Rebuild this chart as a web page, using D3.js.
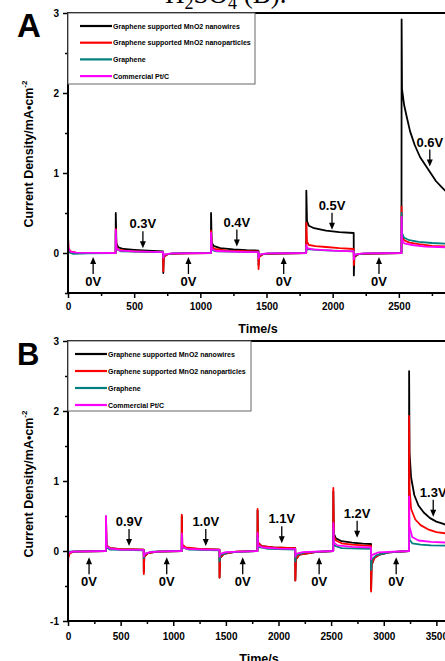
<!DOCTYPE html>
<html>
<head>
<meta charset="utf-8">
<script src="https://cdn.jsdelivr.net/npm/d3@7"></script>
<style>
body { margin: 0; background: #fff; }
svg { display: block; font-family: "Liberation Sans", Arial, sans-serif; font-weight: bold; }
</style>
</head>
<body>
<svg id="chart" width="445" height="661"></svg>
<script>
// legend entries, same order in both panels
var seriesNames = ["Graphene supported MnO2 nanowires", "Graphene supported MnO2 nanoparticles", "Graphene", "Commercial Pt/C"];
var seriesColors = ["#000000", "#ff0000", "#008080", "#ff00ff"];

// Panel A: [time (s), current density (mA/cm2)]
var nanowiresA = [[0,0.05],[5,0.01],[30,0],[360,0],
    [361,0.5],[366,0.12],[380,0.07],[420,0.05],[500,0.04],[600,0.03],[719,0.02],
    [720,-0.25],[724,-0.04],[760,-0.01],[900,0],[1080,0],
    [1081,0.5],[1086,0.13],[1100,0.09],[1150,0.06],[1250,0.045],[1350,0.035],[1439,0.03],
    [1440,-0.15],[1444,-0.04],[1480,-0.01],[1800,0],
    [1801,0.78],[1806,0.4],[1820,0.34],[1860,0.31],[1950,0.28],[2050,0.26],[2159,0.25],
    [2160,-0.28],[2164,-0.05],[2200,-0.01],[2520,0],
    [2521,2.92],[2524,2.05],[2540,1.85],[2560,1.7],[2585,1.52],[2620,1.35],[2660,1.2],[2700,1.1],[2740,1.0],[2780,0.9],[2820,0.83],[2850,0.78],[2880,0.74]];
var particlesA = [[0,0.22],[4,0.06],[20,0.02],[60,0.005],[360,0],
    [361,0.3],[366,0.08],[380,0.04],[450,0.025],[600,0.015],[719,0.01],
    [720,-0.23],[724,-0.05],[760,-0.01],[1080,0],
    [1081,0.28],[1086,0.08],[1110,0.05],[1200,0.03],[1439,0.02],
    [1440,-0.2],[1444,-0.05],[1480,-0.01],[1800,0],
    [1801,0.38],[1806,0.14],[1820,0.1],[1870,0.085],[1950,0.075],[2050,0.06],[2159,0.05],
    [2160,-0.15],[2164,-0.04],[2200,-0.01],[2520,0],
    [2521,0.58],[2524,0.22],[2540,0.16],[2580,0.13],[2650,0.11],[2750,0.09],[2880,0.08]];
var grapheneA = [[0,0.05],[10,0.01],[40,-0.01],[150,-0.005],[360,0],
    [361,0.25],[366,0.05],[400,0.02],[719,0.01],
    [720,-0.05],[730,-0.02],[800,-0.005],[1080,0],
    [1081,0.2],[1086,0.04],[1120,0.02],[1439,0.01],
    [1440,-0.05],[1450,-0.02],[1520,-0.005],[1800,0],
    [1801,0.08],[1806,0.05],[1900,0.035],[2159,0.02],
    [2160,-0.05],[2170,-0.02],[2250,-0.005],[2520,0],
    [2521,0.5],[2524,0.25],[2540,0.19],[2580,0.16],[2650,0.14],[2750,0.125],[2880,0.115]];
var ptcA = [[0,0.18],[4,0.05],[20,0.015],[60,0.005],[360,0],
    [361,0.29],[366,0.06],[390,0.03],[500,0.02],[719,0.01],
    [720,-0.06],[726,-0.02],[780,-0.005],[1080,0],
    [1081,0.25],[1086,0.05],[1120,0.025],[1300,0.015],[1439,0.01],
    [1440,-0.07],[1446,-0.02],[1500,-0.005],[1800,0],
    [1801,0.1],[1806,0.06],[1850,0.045],[2000,0.03],[2159,0.02],
    [2160,-0.08],[2166,-0.02],[2230,-0.005],[2520,0],
    [2521,0.45],[2524,0.17],[2540,0.12],[2600,0.1],[2700,0.08],[2880,0.07]];

// Panel B
var nanowiresB = [[0,-0.05],[5,-0.03],[40,-0.01],[360,0],
    [361,0.48],[366,0.08],[400,0.04],[500,0.025],[719,0.02],
    [720,-0.3],[725,-0.08],[760,-0.03],[850,-0.01],[1080,0],
    [1081,0.5],[1086,0.08],[1120,0.04],[1250,0.025],[1439,0.02],
    [1440,-0.38],[1445,-0.1],[1480,-0.04],[1600,-0.01],[1800,0],
    [1801,0.58],[1806,0.12],[1840,0.07],[1950,0.05],[2159,0.04],
    [2160,-0.42],[2165,-0.12],[2200,-0.05],[2350,-0.015],[2520,0],
    [2521,0.85],[2526,0.25],[2545,0.18],[2600,0.14],[2700,0.12],[2800,0.105],[2879,0.1],
    [2880,-0.55],[2885,-0.2],[2910,-0.1],[2960,-0.05],[3050,-0.02],[3240,0],
    [3241,2.57],[3245,1.4],[3260,1.05],[3290,0.8],[3330,0.65],[3380,0.55],[3440,0.47],[3500,0.42],[3560,0.39],[3600,0.37]];
var particlesB = [[0,-0.25],[3,-0.1],[15,-0.04],[50,-0.01],[360,0],
    [361,0.49],[366,0.08],[400,0.04],[500,0.025],[719,0.02],
    [720,-0.33],[725,-0.08],[760,-0.03],[850,-0.01],[1080,0],
    [1081,0.52],[1086,0.09],[1120,0.05],[1250,0.03],[1439,0.02],
    [1440,-0.38],[1445,-0.1],[1480,-0.04],[1600,-0.01],[1800,0],
    [1801,0.6],[1806,0.12],[1840,0.07],[1950,0.05],[2159,0.04],
    [2160,-0.42],[2165,-0.12],[2200,-0.05],[2350,-0.015],[2520,0],
    [2521,0.9],[2526,0.22],[2545,0.15],[2600,0.11],[2700,0.09],[2800,0.08],[2879,0.075],
    [2880,-0.58],[2885,-0.2],[2910,-0.1],[2960,-0.05],[3050,-0.02],[3240,0],
    [3241,1.93],[3245,0.9],[3260,0.6],[3300,0.45],[3350,0.37],[3420,0.31],[3500,0.27],[3600,0.25]];
var grapheneB = [[0,-0.03],[10,-0.01],[360,0],
    [361,0.3],[366,0.05],[400,0.02],[719,0.01],
    [720,-0.1],[730,-0.04],[800,-0.01],[1080,0],
    [1081,0.2],[1086,0.05],[1150,0.02],[1439,0.01],
    [1440,-0.15],[1447,-0.06],[1520,-0.02],[1800,0],
    [1801,0.2],[1806,0.06],[1900,0.03],[2159,0.02],
    [2160,-0.15],[2167,-0.06],[2250,-0.02],[2520,0],
    [2521,0.3],[2526,0.08],[2600,0.04],[2879,0.03],
    [2880,-0.27],[2887,-0.12],[2930,-0.06],[3050,-0.02],[3240,0],
    [3241,0.3],[3246,0.16],[3270,0.11],[3350,0.09],[3450,0.08],[3600,0.075]];
var ptcB = [[0,-0.06],[5,-0.03],[40,-0.01],[360,0],
    [361,0.5],[366,0.07],[400,0.035],[500,0.02],[719,0.015],
    [720,-0.08],[726,-0.04],[780,-0.015],[900,-0.005],[1080,0],
    [1081,0.25],[1086,0.06],[1130,0.03],[1300,0.02],[1439,0.015],
    [1440,-0.08],[1446,-0.04],[1500,-0.015],[1800,0],
    [1801,0.26],[1806,0.08],[1850,0.05],[2000,0.035],[2159,0.03],
    [2160,-0.08],[2166,-0.04],[2230,-0.015],[2520,0],
    [2521,0.4],[2526,0.12],[2560,0.08],[2700,0.06],[2879,0.05],
    [2880,-0.12],[2886,-0.06],[2950,-0.02],[3240,0],
    [3241,0.78],[3245,0.35],[3270,0.2],[3330,0.15],[3450,0.13],[3600,0.12]];

// potential-step annotations: label, time, value the arrow points at
var annotLabelsA = ["0V","0.3V","0V","0.4V","0V","0.5V","0V","0.6V"];
var annotTimesA = [190, 566, 910, 1276, 1630, 1995, 2350, 2734];
var annotTipsA = [-0.05, 0.06, -0.05, 0.08, -0.05, 0.29, -0.05, 1.08];
var annotLabelsB = ["0V","0.9V","0V","1.0V","0V","1.1V","0V","1.2V","0V","1.3V"];
var annotTimesB = [200, 580, 938, 1309, 1660, 2031, 2386, 2747, 3118, 3470];
var annotTipsB = [-0.09, 0.07, -0.09, 0.07, -0.09, 0.11, -0.09, 0.19, -0.09, 0.49];

var xTicksA = [0, 500, 1000, 1500, 2000, 2500, 3000];
var xTicksB = [0, 500, 1000, 1500, 2000, 2500, 3000, 3500];
var yTicksA = [0, 1, 2, 3];
var yMinorA = [-0.5, 0.5, 1.5, 2.5];
var yTicksB = [-1, 0, 1, 2, 3];
var yMinorB = [-0.5, 0.5, 1.5, 2.5];

var svg = d3.select("#chart");

// bottom of the caption line above the figure, cut off by the crop
var cap = svg.append("text")
    .attr("x", 165).attr("y", 3)
    .style("font-family", "'Liberation Serif', serif")
    .style("font-weight", "normal")
    .style("font-size", "27px");
cap.append("tspan").text("H");
cap.append("tspan").attr("dy", 6).style("font-size", "18px").text("2");
cap.append("tspan").attr("dy", -6).text("SO");
cap.append("tspan").attr("dy", 6).style("font-size", "18px").text("4");
cap.append("tspan").attr("dy", -6).text(" (B).");

function drawPanel(p) {
    var x = d3.scaleLinear().domain(p.xDomain).range([p.left, p.right]);
    var y = d3.scaleLinear().domain(p.yDomain).range([p.bottom, p.top]);
    var g = svg.append("g");

    var clipId = "clip" + p.letter;
    svg.append("clipPath").attr("id", clipId)
        .append("rect")
        .attr("x", p.left).attr("y", p.top)
        .attr("width", p.right - p.left).attr("height", p.bottom - p.top);

    // curves
    var line = d3.line()
        .x(function (d) { return x(d[0]); })
        .y(function (d) { return y(d[1]); });
    var curves = g.append("g").attr("clip-path", "url(#" + clipId + ")");
    p.series.forEach(function (s, i) {
        curves.append("path")
            .attr("d", line(s))
            .attr("fill", "none")
            .attr("stroke", seriesColors[i])
            .attr("stroke-width", 1.8)
            .attr("stroke-linejoin", "round");
    });

    var plain = function (d) { return String(d); };

    // x axis
    var xAxis = d3.axisBottom(x).tickValues(p.xTicks).tickSize(5).tickPadding(p.xPad)
        .tickFormat(plain);
    g.append("g").attr("transform", "translate(0," + p.bottom + ")").call(xAxis);
    var xMinor = p.xTicks.map(function (d) { return d + 250; });
    g.append("g").attr("transform", "translate(0," + p.bottom + ")")
        .call(d3.axisBottom(x).tickValues(xMinor).tickSize(3).tickFormat(""));

    // y axis
    var yAxis = d3.axisLeft(y).tickValues(p.yTicks).tickSize(5).tickPadding(4)
        .tickFormat(plain);
    g.append("g").attr("transform", "translate(" + p.left + ",0)").call(yAxis);
    g.append("g").attr("transform", "translate(" + p.left + ",0)")
        .call(d3.axisLeft(y).tickValues(p.yMinor).tickSize(3).tickFormat(""));

    g.selectAll(".domain").remove();
    g.selectAll(".tick line").attr("stroke", "#000").attr("stroke-width", 1.5);
    g.selectAll(".tick text")
        .style("font-family", "'Liberation Sans', Arial, sans-serif")
        .style("font-weight", "bold")
        .style("font-size", "10px")
        .attr("fill", "#000");

    // frame
    g.append("path")
        .attr("d", "M" + p.left + "," + p.bottom + "V" + p.top + "H" + p.right + "V" + p.bottom + "Z")
        .attr("fill", "none")
        .attr("stroke", "#000")
        .attr("stroke-width", 2);

    // legend
    var lg = g.append("g");
    lg.append("rect")
        .attr("x", p.left).attr("y", p.top)
        .attr("width", p.legendW).attr("height", p.legendH)
        .attr("fill", "#fff")
        .attr("stroke", "#666")
        .attr("stroke-width", 1);
    seriesNames.forEach(function (name, i) {
        var ly = p.legendY0 + i * p.legendStep;
        lg.append("line")
            .attr("x1", p.legendX0).attr("x2", p.legendX0 + 32)
            .attr("y1", ly).attr("y2", ly)
            .attr("stroke", seriesColors[i])
            .attr("stroke-width", 2.2);
        lg.append("text")
            .attr("x", p.legendX0 + 33).attr("y", ly + 2.5)
            .style("font-size", "7px")
            .text(name);
    });

    // arrows and potential labels
    var ag = g.append("g");
    p.annotLabels.forEach(function (lab, i) {
        var ax = x(p.annotTimes[i]);
        var tip = y(p.annotTips[i]);
        var up = lab === "0V";
        var tail = up ? tip + 17 : tip - 17;
        ag.append("line")
            .attr("x1", ax).attr("x2", ax)
            .attr("y1", tail).attr("y2", up ? tip + 5 : tip - 5)
            .attr("stroke", "#000")
            .attr("stroke-width", 1.3);
        var dir = up ? 1 : -1;
        ag.append("path")
            .attr("d", "M" + ax + "," + tip + "L" + (ax - 3) + "," + (tip + dir * 7) +
                "L" + (ax + 3) + "," + (tip + dir * 7) + "Z")
            .attr("fill", "#000");
        ag.append("text")
            .attr("x", ax)
            .attr("y", up ? tip + 29 : tip - 20)
            .attr("text-anchor", "middle")
            .style("font-size", "13px")
            .text(lab);
    });

    // axis titles
    g.append("text")
        .attr("x", p.xTitleX).attr("y", p.xTitleY)
        .attr("text-anchor", "middle")
        .style("font-size", "12.5px")
        .text("Time/s");
    var yt = g.append("text")
        .attr("transform", "translate(32.5," + p.yTitleY + ") rotate(-90)")
        .attr("text-anchor", "middle")
        .style("font-size", "12.5px");
    yt.append("tspan").text("Current Density/mA\u2022cm");
    yt.append("tspan").attr("dy", -6).style("font-size", "8px").text("-2");

    // panel letter
    g.append("text")
        .attr("x", 17).attr("y", p.letterY)
        .style("font-size", p.letterSize)
        .text(p.letter);
}

drawPanel({
    letter: "A", letterY: 37, letterSize: "33px",
    series: [nanowiresA, particlesA, grapheneA, ptcA],
    xDomain: [0, 3000], yDomain: [-0.5, 3],
    left: 68, right: 465, top: 13, bottom: 293,
    xTicks: xTicksA, yTicks: yTicksA, yMinor: yMinorA, xPad: 5,
    legendW: 187, legendH: 71, legendX0: 80, legendY0: 26, legendStep: 16.7,
    annotLabels: annotLabelsA, annotTimes: annotTimesA, annotTips: annotTipsA,
    xTitleX: 258, xTitleY: 333, yTitleY: 154
});

drawPanel({
    letter: "B", letterY: 365, letterSize: "31px",
    series: [nanowiresB, particlesB, grapheneB, ptcB],
    xDomain: [0, 4000], yDomain: [-1, 3],
    left: 68, right: 489, top: 341, bottom: 621,
    xTicks: xTicksB, yTicks: yTicksB, yMinor: yMinorB, xPad: 7,
    legendW: 183, legendH: 70, legendX0: 75, legendY0: 354, legendStep: 17,
    annotLabels: annotLabelsB, annotTimes: annotTimesB, annotTips: annotTipsB,
    xTitleX: 259, xTitleY: 663, yTitleY: 484
});
</script>
</body>
</html>
